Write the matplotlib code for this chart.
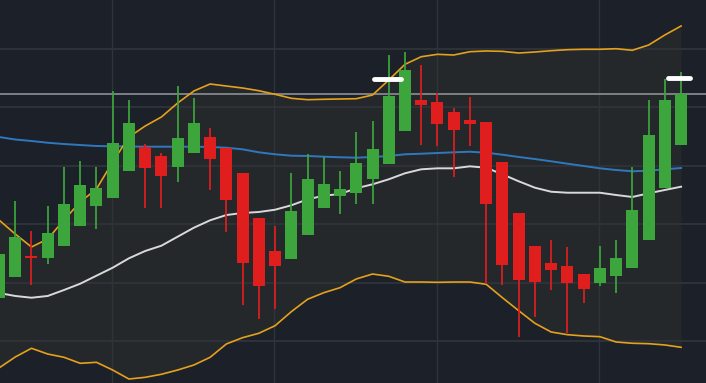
import numpy as np
import matplotlib
matplotlib.use("Agg")
import matplotlib.pyplot as plt

# ---- data ----
opens = [107.41, 111.01, 114.61, 114.26, 116.32, 119.74, 123.17, 124.54, 129.16, 133.27,
         131.68, 129.85, 132.24, 134.93, 133.10, 128.77, 121.06, 115.41, 114.09, 118.20,
         122.83, 124.88, 125.39, 127.79, 130.36, 136.01, 141.27, 140.92, 139.21, 137.84,
         137.50, 130.65, 121.92, 116.27, 113.36, 112.84, 111.47, 109.98, 111.18, 112.55,
         117.35, 126.25, 133.61]
highs = [114.90, 123.97, 118.84, 123.12, 129.79, 130.82, 129.79, 142.81, 141.27, 133.73,
         132.14, 143.66, 141.61, 136.47, 133.10, 128.77, 121.06, 119.74, 128.77, 132.02,
         131.45, 129.11, 135.79, 137.67, 148.97, 149.49, 147.26, 142.41, 139.90, 141.78,
         137.50, 130.65, 121.92, 116.27, 117.29, 116.10, 111.47, 116.27, 117.29, 129.79,
         141.27, 144.86, 146.06]
lows = [107.41, 110.95, 109.59, 113.24, 116.30, 119.70, 119.23, 124.50, 129.10, 122.83,
        122.83, 127.28, 132.20, 125.91, 118.72, 106.16, 103.82, 105.53, 114.00, 118.20,
        122.80, 121.80, 123.51, 123.51, 130.30, 136.00, 133.61, 133.39, 128.13, 133.44,
        109.71, 109.64, 100.74, 104.11, 108.68, 101.42, 106.46, 109.47, 108.27, 112.50,
        117.30, 126.20, 133.60]
closes = [114.90, 117.81, 114.16, 118.49, 123.46, 126.71, 126.20, 133.90, 137.33, 129.67,
          128.30, 134.76, 137.33, 131.22, 124.19, 113.41, 109.47, 112.89, 122.26, 127.74,
          126.88, 126.03, 130.48, 132.88, 141.95, 146.40, 140.41, 137.16, 136.18, 137.21,
          123.51, 113.06, 110.50, 110.15, 112.21, 109.98, 108.82, 112.50, 114.21, 122.43,
          135.27, 141.27, 142.24]

bb_upper = [120.72, 118.32, 116.10, 117.47, 120.72, 123.80, 126.03, 130.65, 134.93, 136.81,
            138.36, 140.75, 142.81, 144.01, 143.66, 143.32, 142.86, 142.24, 141.56, 141.32,
            141.39, 141.44, 141.49, 142.12, 144.69, 147.38, 148.68, 149.09, 148.97, 149.54,
            149.66, 149.60, 149.31, 149.49, 149.71, 149.88, 149.95, 149.95, 150.05, 149.78,
            150.68, 152.40, 153.94]
bb_lower = [95.38, 97.26, 98.75, 97.77, 97.21, 96.18, 96.35, 95.03, 93.49, 93.78,
            94.30, 95.03, 95.89, 97.21, 99.49, 100.57, 101.32, 102.62, 105.02, 107.14,
            108.27, 109.13, 110.62, 111.47, 111.08, 110.10, 110.10, 110.05, 110.10, 110.10,
            109.71, 107.41, 105.19, 103.03, 101.54, 101.08, 100.86, 100.74, 99.83, 99.61,
            99.54, 99.32, 98.92]
bb_middle = [108.22, 107.71, 107.41, 107.71, 108.73, 109.81, 111.18, 112.55, 114.16, 115.41,
             116.32, 117.86, 119.40, 120.67, 121.57, 121.92, 122.09, 122.48, 123.24, 124.26,
             124.88, 125.17, 126.15, 126.83, 127.69, 128.72, 129.40, 129.57, 129.57, 129.91,
             129.67, 128.54, 127.35, 126.25, 125.56, 125.39, 125.39, 125.39, 125.00, 124.66,
             125.29, 125.86, 126.42]
ma_long = [134.93, 134.50, 134.25, 133.95, 133.73, 133.56, 133.39, 133.34, 133.31, 133.27,
           133.27, 133.27, 133.27, 133.22, 133.10, 132.82, 132.31, 131.97, 131.73, 131.68,
           131.56, 131.46, 131.39, 131.51, 131.68, 131.97, 132.07, 132.19, 132.31, 132.41,
           132.24, 131.90, 131.51, 131.16, 130.77, 130.36, 129.97, 129.57, 129.28, 129.06,
           129.16, 129.40, 129.62]

# recent-high markers: (start index, end index, price)
marker_levels = [(23.1, 24.75, 144.9), (41.2, 42.55, 145.0)]

price_grid = [100, 110, 120, 130, 140, 150]
time_grid = [6.96, 16.95, 26.97, 36.95]

# ---- style ----
BG = "#1b2029"
FILL = "#25282b"
GRID = "#2f333a"
GREEN = "#3ca63c"
RED = "#e01e1e"
ORANGE = "#e5a11c"
WHITE = "#d9d9d9"
BLUE = "#2f78bd"

fig = plt.figure(figsize=(7.06, 3.83), dpi=100, facecolor=BG)
ax = fig.add_axes([0, 0, 1, 1])
ax.set_facecolor(BG)
for s in ax.spines.values():
    s.set_visible(False)

x = np.arange(len(opens))
o = np.array(opens); h = np.array(highs); l = np.array(lows); c = np.array(closes)

# band fill
ax.fill_between(x, bb_lower, bb_upper, color=FILL, zorder=1, linewidth=0)

# grid
for p in price_grid:
    ax.axhline(p, color=GRID, lw=1.3, zorder=2)
for t in time_grid:
    ax.axvline(t, color=GRID, lw=1.0, zorder=2)

# last price line
ax.axhline(closes[-1], color="#8c8f94", lw=1.2, zorder=3)

# lines
ax.plot(x, ma_long, color=BLUE, lw=1.4, zorder=4)
ax.plot(x, bb_middle, color=WHITE, lw=1.4, zorder=4)
ax.plot(x, bb_upper, color=ORANGE, lw=1.2, zorder=4)
ax.plot(x, bb_lower, color=ORANGE, lw=1.2, zorder=4)

# candles
up = c >= o
colors = np.where(up, GREEN, RED)
ax.vlines(x, l, h, colors=colors, lw=1.25, zorder=5)
body_bottom = np.minimum(o, c)
body_h = np.maximum(np.abs(c - o), 0.3)
ax.bar(x, body_h, bottom=body_bottom, width=0.74, color=colors, zorder=6, linewidth=0)

# markers
for x0, x1, lvl in marker_levels:
    ax.plot([x0, x1], [lvl, lvl], color="white", lw=3.5, solid_capstyle="round", zorder=7)

ax.set_xlim(1 / 16.24, 707 / 16.24)
ax.set_ylim(100 - 42 / 5.84, 100 + 341 / 5.84)
ax.set_xticks([]); ax.set_yticks([])

fig.savefig("out.png", dpi=100, facecolor=BG)
